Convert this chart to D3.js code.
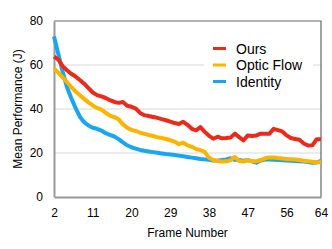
<!DOCTYPE html>
<html><head><meta charset="utf-8">
<script src="https://cdn.jsdelivr.net/npm/d3@7/dist/d3.min.js"></script>
<style>body{margin:0;background:#fff}svg{display:block}text{font-family:"Liberation Sans",Arial,sans-serif;fill:#000}</style>
</head><body><svg id="c" width="332" height="249"></svg>
<script>
const frames = d3.range(2, 65);
const ours = [63.8,62.5,59.5,57.6,56,54.8,53.2,51.5,49.5,47.5,46.3,45.7,45,44,43.2,42.8,43.2,41.5,41,40.2,38.2,37.2,36.8,36.4,36,35.4,34.9,34.3,33.6,33.2,34.2,32.8,31,30.3,31.8,29.6,27.8,26.5,27.4,26.7,26.8,27,28.8,27.2,25.7,28,27.7,28,28.8,28.8,28.7,31,30.4,29.8,28,26.8,26.4,26,24.3,23.4,23.5,26.3,26.2];
const opticFlow = [58.5,56.5,54.4,52.3,50,48,46.3,44.6,43,41.6,40.5,39.7,38.3,37,36.3,35.3,33,31.5,30.5,30,29.2,28.7,28.2,27.7,27.2,26.8,26.4,25.8,25.2,24,24.7,23.5,22.8,21.8,21.3,20.5,17.8,16.8,16.4,16.1,16.2,16.8,18.2,16.4,16.1,16.8,16.2,16.3,16.8,17.6,18,18,17.7,17.5,17.3,17.2,17,16.8,16.5,16.3,16,15.8,15.8];
const identity = [73,65,57,50,45,40.5,36.5,34,32.5,31.5,31,30.2,29,28.2,27.5,26.3,24.8,23.5,22.6,22,21.4,21,20.7,20.4,20.1,19.8,19.5,19.3,19.1,18.8,18.5,18.2,17.9,17.6,17.3,17.1,16.9,16.6,16.5,16.8,17.1,17.6,16.9,16.8,16.5,16.8,16.2,15.6,16.6,17,17,16.9,16.8,16.7,16.6,16.5,16.4,16.2,16.1,15.9,15.6,15.7,16.4];
const xTicks = [2,11,20,29,38,47,56,64];
const yTicks = [0,20,40,60,80];
const seriesNames = ["Ours","Optic Flow","Identity"];
const seriesColors = ["#ec2a1c","#fbb500","#16a6f2"];
const seriesData = [ours, opticFlow, identity];

const svg = d3.select("#c");
const L=54, R=321, T=21, B=197;
const x = d3.scaleLinear().domain([2,64]).range([L,R]);
const y = d3.scaleLinear().domain([0,80]).range([B,T]);

// gridlines
svg.append("g").selectAll("line").data([20,40,60]).join("line")
  .attr("x1",L).attr("x2",R).attr("y1",d=>y(d)).attr("y2",d=>y(d))
  .attr("stroke","#d9d9d9").attr("stroke-width",1);

// frame top/right
svg.append("path").attr("d",`M${L},${T}H${R}V${B}`).attr("fill","none").attr("stroke","#666").attr("stroke-width",1.2);

// axes
const xAxis = svg.append("g").attr("transform",`translate(0,${B})`)
  .call(d3.axisBottom(x).tickValues(xTicks).tickSize(0).tickPadding(11));
const yAxis = svg.append("g").attr("transform",`translate(${L},0)`)
  .call(d3.axisLeft(y).tickValues(yTicks).tickSize(0).tickPadding(11));
[xAxis,yAxis].forEach(a=>{
  a.select(".domain").attr("stroke","#999").attr("stroke-width",2);
  a.selectAll("text").attr("font-size",12).attr("font-family","Liberation Sans, Arial, sans-serif").attr("fill","#000");
});

// lines (draw identity first, ours last)
const line = d3.line().x((d,i)=>x(frames[i])).y(d=>y(d)).curve(d3.curveLinear);
[2,1,0].forEach(k=>{
  svg.append("path").datum(seriesData[k]).attr("d",line)
    .attr("fill","none").attr("stroke",seriesColors[k]).attr("stroke-width",4)
    .attr("stroke-linejoin","round").attr("stroke-linecap","butt");
});

// legend
const lg = svg.append("g");
lg.append("rect").attr("x",204).attr("y",38).attr("width",109).attr("height",52).attr("fill","#fff");
seriesNames.forEach((n,i)=>{
  const cy = 48.5 + i*16.5;
  lg.append("line").attr("x1",213).attr("x2",226).attr("y1",cy).attr("y2",cy)
    .attr("stroke",seriesColors[i]).attr("stroke-width",3);
  lg.append("text").attr("x",236).attr("y",cy+5).attr("font-size",14).text(n);
});

// axis titles
svg.append("text").attr("x",(L+R)/2).attr("y",237).attr("text-anchor","middle").attr("font-size",12).text("Frame Number");
svg.append("text").attr("transform",`translate(21.5,${(T+B)/2}) rotate(-90)`).attr("text-anchor","middle").attr("font-size",12).text("Mean Performance (J)");
</script></body></html>
